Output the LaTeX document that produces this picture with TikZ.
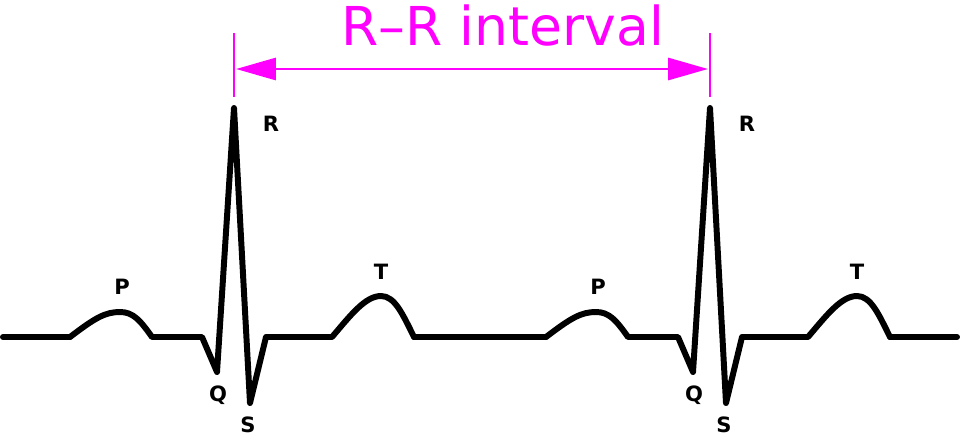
\documentclass[tikz,border=0pt]{standalone}
\usepackage{fontspec}
\setmainfont{DejaVu Sans}
\usepackage{tikz}
\usetikzlibrary{arrows, arrows.meta}
\definecolor{magenta}{RGB}{255,0,255}
\tikzstyle{ecg} = [draw, line width=3.4pt, line cap=round, line join=round]
\tikzstyle{wave} = [font=\fontsize{12}{14}\selectfont\bfseries, inner sep=0pt]
\tikzstyle{tick} = [draw=magenta, line width=1.1pt]
\tikzstyle{interval} = [draw=magenta, line width=1.7pt]

\begin{document}
\begin{tikzpicture}[x=0.02cm, y=-0.02cm, >={Triangle[length=0.8cm, width=0.44cm]}]
  \useasboundingbox [fill=white] (0,0) rectangle (960,436);

  \foreach \i/\o in {1/0, 2/476} {
    \draw [ecg] ({70+\o},337) coordinate (p\i)
      .. controls ({95+\o},318) and ({105+\o},312) .. ({120+\o},312)
      .. controls ({133+\o},312) and ({140+\o},320) .. ({152+\o},337)
      -- ({202+\o},337) -- ({217+\o},372) -- ({234+\o},108) coordinate (r\i)
      -- ({250+\o},403) -- ({266+\o},337) -- ({332+\o},337)
      .. controls ({350+\o},316) and ({365+\o},296) .. ({381+\o},296)
      .. controls ({395+\o},296) and ({403+\o},315) .. ({414+\o},337) coordinate (t\i);
    \node [wave] (P\i) at ({122+\o},287) {P};
    \node [wave] (Q\i) at ({218+\o},395) {Q};
    \node [wave] (R\i) at ({271+\o},124) {R};
    \node [wave] (S\i) at ({248+\o},425) {S};
    \node [wave] (T\i) at ({381+\o},272) {T};
  }
  \coordinate (start) at (3,337);
  \coordinate (end) at (957,337);
  \draw [ecg] (start) -- (p1);
  \draw [ecg] (t1) -- (p2);
  \draw [ecg] (t2) -- (end);

  \draw [tick] (234,33) -- (234,97);
  \draw [tick] (710,33) -- (710,97);
  \coordinate (left) at (236,69);
  \coordinate (right) at (708,69);
  \draw [interval, <->, magenta] (left) -- (right);
  \node [anchor=base, text=magenta, font=\fontsize{30.5}{34}\selectfont, inner sep=0pt] (title) at (503,45) {R–R interval};
\end{tikzpicture}
\end{document}
